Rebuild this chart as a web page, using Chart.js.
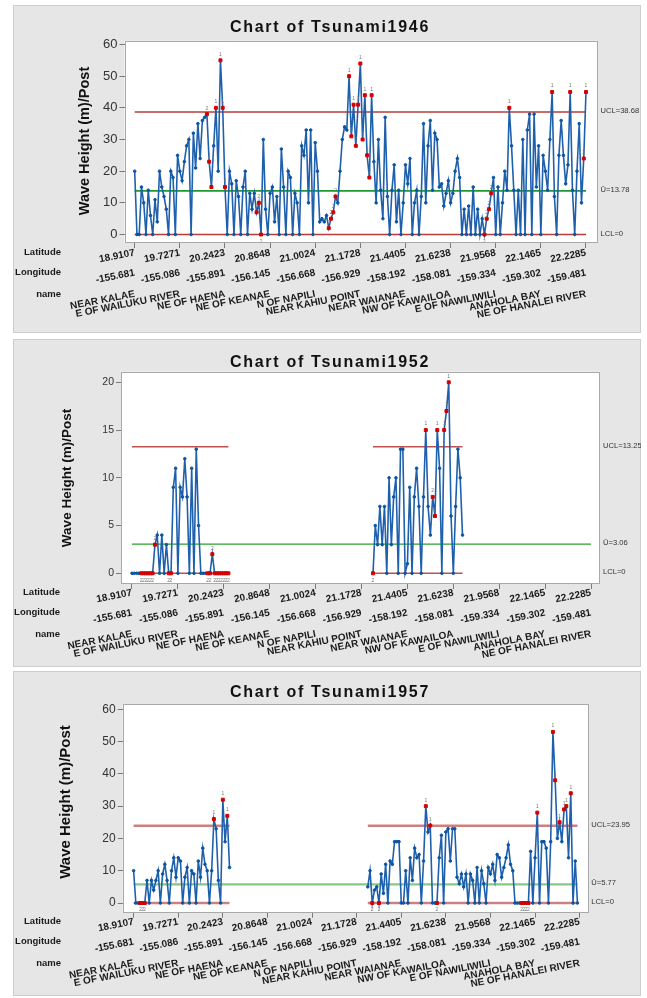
<!DOCTYPE html>
<html><head><meta charset="utf-8">
<script src="https://cdn.jsdelivr.net/npm/chart.js@4.4.1/dist/chart.umd.min.js"></script>
<style>
html,body{margin:0;padding:0;background:#fff;width:647px;height:998px;overflow:hidden;}
.panel{position:absolute;left:13px;width:628px;}
canvas{display:block;}
</style></head><body>
<div class="panel" style="top:5px"><canvas id="c1" width="628" height="328"></canvas></div>
<div class="panel" style="top:339px"><canvas id="c2" width="628" height="328"></canvas></div>
<div class="panel" style="top:671px"><canvas id="c3" width="628" height="325"></canvas></div>
<script>
const FONT = '"Liberation Sans", Arial, Helvetica, sans-serif';
const _ = null;

// ---- tick table ----
const latitude = ['18.9107','19.7271','20.2423','20.8648','21.0024','21.1728','21.4405','21.6238','21.9568','22.1465','22.2285'];
const longitude = ['-155.681','-155.086','-155.891','-156.145','-156.668','-156.929','-158.192','-158.081','-159.334','-159.302','-159.481'];
const placeNames = ['NEAR KALAE','E OF WAILUKU RIVER','NE OF HAENA','NE OF KEANAE','N OF NAPILI','NEAR KAHIU POINT','NEAR WAIANAE','NW OF KAWAILOA','E OF NAWILIWILI','ANAHOLA BAY','NE OF HANALEI RIVER'];
const tickIdx = [0,20,40,60,80,100,120,140,160,180,200];
const yTicks60 = [0,10,20,30,40,50,60];
const yTicks20 = [0,5,10,15,20];

// ---- Tsunami 1946 ----
const t1946 = [
20,0,0,15,10,0,14,6,0,11,
4,20,15,12,8,0,20,18,0,25,
20,17,23,28,30,0,32,21,35,24,
36,37,38,23,15,28,40,20,55,40,
15,0,20,16,0,17,12,0,15,20,
0,13,8,13,7,10,0,30,8,0,
13,15,4,12,0,27,15,0,20,18,
0,13,10,0,28,25,33,10,33,0,
29,20,4,5,4,6,2,5,7,12,
10,20,30,34,33,50,31,41,28,41,
54,30,44,25,18,44,23,10,30,14,
5,37,12,0,14,22,4,14,0,10,
22,16,24,0,10,14,0,12,35,10,
28,36,14,32,30,15,16,9,13,17,
10,13,20,24,18,0,8,0,9,0,
15,0,8,0,5,0,5,8,13,18,
0,15,0,10,20,14,40,28,14,0,
14,0,30,0,33,38,0,38,15,28,
0,25,20,14,30,45,12,0,25,36,
25,16,22,45,14,0,20,35,10,24,
45];
const flags1946 = [32,33,34,40,54,55,56,86,87,88,89,96,98,101,103,104,155,156,157,158,199];
const ucl1946 = 38.68, ubar1946 = 13.78, lcl1946 = 0;

// ---- Tsunami 1952 ----
const t1952 = [
0,0,0,0,0,0,0,0,0,0,
3,4,0,4,0,3,0,0,9,11,
0,9,8,12,8,0,11,0,13,5,
0,0,0,0,0,2,0,0,0,0,
0,0,0,
_,_,_,_,_,_,_,_,_,_,
_,_,_,_,_,_,_,_,_,_,
_,_,_,_,_,_,_,_,_,_,
_,_,_,_,_,_,_,_,_,_,
_,_,_,_,_,_,_,_,_,_,
_,_,_,_,_,_,_,_,_,_,
_,_,
0,5,3,7,3,7,0,10,3,8,
10,0,13,13,0,1,9,0,8,11,
7,0,8,15,7,4,8,6,15,11,
0,15,17,20,6,0,7,13,10,4,
_,_,_,_,_,_,_,_,_,_,
_,_,_,_,_,_,_,_,_,_,
_,_,_,_,_,_,_,_,_,_,
_,_,_,_,_,_,_,_,_,_,
_,_,_,_,_,_,_,_,_,_,
_,_,_,_,_,_];
const flags1952 = [4,5,6,7,8,9,10,16,17,33,34,35,36,37,38,39,40,41,42,105,131,132];
const ucl1952 = 13.25, ubar1952 = 3.06, lcl1952 = 0;

// ---- Tsunami 1957 ----
const t1957 = [
10,0,0,0,0,0,7,0,7,4,
7,10,0,9,12,7,0,10,14,8,
14,13,0,8,11,0,10,9,0,13,
8,17,12,10,0,10,26,23,7,0,
32,19,27,11,
_,_,_,_,_,_,_,_,_,_,
_,_,_,_,_,_,_,_,_,_,
_,_,_,_,_,_,_,_,_,_,
_,_,_,_,_,_,_,_,_,_,
_,_,_,_,_,_,_,_,_,_,
_,_,_,_,_,_,_,_,_,_,
_,
5,10,0,4,5,0,9,3,12,0,
13,12,19,19,19,0,0,10,0,14,
7,17,14,15,0,13,30,22,24,0,
0,0,14,21,0,22,23,13,23,23,
8,6,9,5,9,0,9,7,0,11,
0,10,6,0,11,9,12,7,15,14,
8,11,14,18,12,10,0,0,0,0,
0,0,0,16,0,14,28,0,19,19,
17,0,19,53,38,20,25,19,29,30,
14,34,0,13,0];
const flags1957 = [3,4,5,107,110,136,174,175,176,177];
const ucl1957 = 23.95, ubar1957 = 5.77, lcl1957 = 0;

const BLUE_LINE = '#1f60ad', BLUE_PT = '#0b55a3', RED = '#d30000';

function makeChart(id, cfg) {
  const values = cfg.values;
  const pts = values.map((v, i) => ({x: i, y: v}));
  const isRed = values.map((v, i) => v !== null && (v > cfg.ucl || cfg.flags.includes(i)));
  const seg = lvl => values.map((v, i) => ({x: i, y: v === null ? null : lvl}));
  const ubarLine = [{x: 0, y: cfg.ubar}, {x: values.length - 1, y: cfg.ubar}];

  const decor = {
    id: 'decor' + id,
    beforeDraw(chart) {
      const ctx = chart.ctx, ca = chart.chartArea, W = chart.width, H = chart.height;
      ctx.save();
      ctx.fillStyle = '#e6e6e6';
      ctx.fillRect(0, 0, W, H);
      ctx.strokeStyle = '#cdcdcd'; ctx.lineWidth = 1;
      ctx.strokeRect(0.5, 0.5, W - 1, H - 1);
      ctx.fillStyle = '#ffffff';
      ctx.fillRect(ca.left, ca.top, ca.right - ca.left, ca.bottom - ca.top);
      ctx.restore();
    },
    afterDatasetsDraw(chart) {
      const ctx = chart.ctx, xs = chart.scales.x, ys = chart.scales.y;
      ctx.save();
      ctx.font = '5px ' + FONT; ctx.fillStyle = '#777'; ctx.textAlign = 'center'; ctx.textBaseline = 'middle';
      values.forEach((v, i) => {
        if (!isRed[i]) return;
        const px = xs.getPixelForValue(i), py = ys.getPixelForValue(v);
        if (v > cfg.ucl) ctx.fillText('1', px, py - 6);
        else if (v === 0) ctx.fillText('2', px, py + 7);
        else ctx.fillText('2', px, py - 6);
      });
      ctx.restore();
    },
    afterDraw(chart) {
      const ctx = chart.ctx, ca = chart.chartArea, xs = chart.scales.x, ys = chart.scales.y;
      ctx.save();
      // plot border
      ctx.strokeStyle = '#a9a9a9'; ctx.lineWidth = 1;
      ctx.strokeRect(Math.round(ca.left) + 0.5, Math.round(ca.top) + 0.5, Math.round(ca.right - ca.left) - 1, Math.round(ca.bottom - ca.top) - 1);
      // title
      ctx.fillStyle = '#111';
      ctx.font = 'bold 16px ' + FONT;
      ctx.textAlign = 'center'; ctx.textBaseline = 'middle';
      try { ctx.letterSpacing = '1.7px'; } catch (e) {}
      ctx.fillText(cfg.title, cfg.titleX, cfg.titleY);
      try { ctx.letterSpacing = '0px'; } catch (e) {}
      // y title
      ctx.save();
      ctx.translate(cfg.yTitleX, cfg.yTitleY);
      ctx.rotate(-Math.PI / 2);
      ctx.font = 'bold ' + cfg.yTitleSize + 'px ' + FONT;
      ctx.fillText('Wave Height (m)/Post', 0, 0);
      ctx.restore();
      // right limit labels
      ctx.font = '7.6px ' + FONT; ctx.fillStyle = '#333'; ctx.textAlign = 'left';
      const lx = ca.right + 3;
      ctx.fillText('UCL=' + cfg.ucl, lx, ys.getPixelForValue(cfg.ucl) - 1);
      ctx.fillText('\u016A=' + cfg.ubar, lx, ys.getPixelForValue(cfg.ubar) - 1);
      ctx.fillText('LCL=' + cfg.lcl, lx, ys.getPixelForValue(cfg.lcl) - 1);
      // category table
      const rows = [['Latitude', latitude], ['Longitude', longitude], ['name', placeNames]];
      ctx.fillStyle = '#1a1a1a';
      rows.forEach((row, r) => {
        const y = ca.bottom + cfg.rowOffsets[r];
        ctx.font = 'bold 9.5px ' + FONT; ctx.textAlign = 'right';
        ctx.fillText(row[0], cfg.rowLabelX, y);
        ctx.font = 'bold 10px ' + FONT;
        row[1].forEach((txt, k) => {
          const x = xs.getPixelForValue(tickIdx[k]);
          ctx.save();
          ctx.translate(x, y);
          ctx.rotate(-11 * Math.PI / 180);
          ctx.fillText(txt, 0, 0);
          ctx.restore();
        });
      });
      ctx.restore();
    }
  };

  return new Chart(document.getElementById(id), {
    type: 'line',
    data: {
      datasets: [
        {
          data: pts, order: 0, spanGaps: false, tension: 0,
          borderColor: BLUE_LINE, borderWidth: 1.6,
          pointStyle: isRed.map(r => r ? 'rect' : 'circle'),
          pointRadius: isRed.map(r => r ? 2.1 : 1.3),
          pointBorderWidth: 1,
          pointBackgroundColor: isRed.map(r => r ? RED : BLUE_PT),
          pointBorderColor: isRed.map(r => r ? RED : BLUE_PT)
        },
        {data: seg(cfg.ucl), order: 2, spanGaps: false, borderColor: cfg.uclColor, borderWidth: cfg.limW, pointRadius: 0},
        {data: ubarLine, order: 2, borderColor: cfg.ubarColor, borderWidth: cfg.limW, pointRadius: 0},
        {data: seg(cfg.lcl), order: 2, spanGaps: false, borderColor: cfg.uclColor, borderWidth: cfg.limW, pointRadius: 0}
      ]
    },
    options: {
      responsive: false, animation: false, devicePixelRatio: 1, events: [],
      layout: {padding: {top: cfg.padTop, right: cfg.padRight, left: 0, bottom: 0}},
      plugins: {legend: {display: false}, tooltip: {enabled: false}, title: {display: false}},
      scales: {
        x: {
          type: 'linear', min: cfg.xmin, max: cfg.xmax,
          afterBuildTicks: s => { s.ticks = tickIdx.map(v => ({value: v})); },
          afterFit: s => { s.height = cfg.xAxisH; },
          ticks: {display: false},
          grid: {drawOnChartArea: false, drawTicks: true, tickLength: 5, color: '#7a7a7a'},
          border: {display: false}
        },
        y: {
          type: 'linear', min: cfg.ymin, max: cfg.ymax,
          afterBuildTicks: s => { s.ticks = cfg.yTicks.map(v => ({value: v})); },
          afterFit: s => { s.width = cfg.yAxisW; },
          ticks: {autoSkip: false, padding: 2, color: '#333', font: {family: FONT, size: cfg.yTickSize}},
          grid: {drawOnChartArea: false, drawTicks: true, tickLength: 5, color: '#7a7a7a'},
          border: {display: false}
        }
      }
    },
    plugins: [decor]
  });
}

makeChart('c1', {
  values: t1946, flags: flags1946, ucl: ucl1946, ubar: ubar1946, lcl: lcl1946,
  title: 'Chart of Tsunami1946', titleX: 317, titleY: 23,
  yTitleX: 72, yTitleY: 136, yTitleSize: 14.5, yTickSize: 13, yTicks: yTicks60,
  padTop: 35.7, padRight: 43.5, yAxisW: 111.5, xAxisH: 90,
  ymin: -2.68, ymax: 61.2, xmin: -4.52, xmax: 205.1,
  rowOffsets: [9.7, 29.7, 51], rowLabelX: 48,
  uclColor: '#b83c38', ubarColor: '#1f9a30', limW: 1.6
});
makeChart('c2', {
  values: t1952, flags: flags1952, ucl: ucl1952, ubar: ubar1952, lcl: lcl1952,
  title: 'Chart of Tsunami1952', titleX: 317, titleY: 23.3,
  yTitleX: 54, yTitleY: 139, yTitleSize: 13.5, yTickSize: 10.5, yTicks: yTicks20,
  padTop: 32.7, padRight: 41, yAxisW: 108, xAxisH: 83,
  ymin: -1.12, ymax: 21.11, xmin: -4.79, xmax: 203.9,
  rowOffsets: [8.7, 28.7, 50], rowLabelX: 47,
  uclColor: '#c0504d', ubarColor: '#2aa02a', limW: 1.4
});
makeChart('c3', {
  values: t1957, flags: flags1957, ucl: ucl1957, ubar: ubar1957, lcl: lcl1957,
  title: 'Chart of Tsunami1957', titleX: 317, titleY: 21.3,
  yTitleX: 53, yTitleY: 131, yTitleSize: 15, yTickSize: 12, yTicks: yTicks60,
  padTop: 33, padRight: 52.7, yAxisW: 109.7, xAxisH: 83.3,
  ymin: -3.0, ymax: 61.64, xmin: -4.89, xmax: 203.86,
  rowOffsets: [9, 29, 50.5], rowLabelX: 48,
  uclColor: '#cd8080', ubarColor: '#86c886', limW: 2.4
});
</script>
</body></html>
